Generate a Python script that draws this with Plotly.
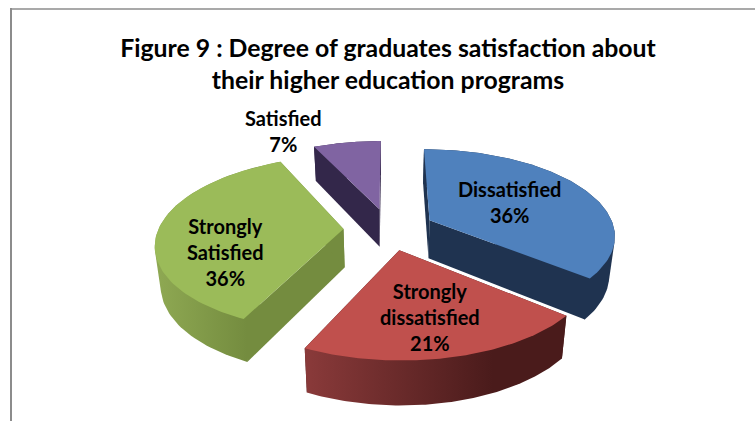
import numpy as np
import plotly.graph_objects as go

categories = ["Dissatisfied", "Strongly dissatisfied", "Strongly Satisfied", "Satisfied"]
values = [36, 21, 36, 7]
label_text = ["Dissatisfied<br>36%", "Strongly<br>dissatisfied<br>21%", "Strongly<br>Satisfied<br>36%", "Satisfied<br>7%"]
label_xy = [(509, 202), (430, 317), (225, 252), (283, 131)]
top_colors = ["#4F81BD", "#C0504D", "#9BBB59", "#8064A2"]
wall_colors = ["#1F3350", "#4A1C1C", "#748C3F", "#33274A"]
arc_gradients = [("#1F3350", "#1F3350"), ("#8A3A3A", "#4A1B1B"), ("#8FA953", "#748C3F"), ("#33274A", "#33274A")]
title_text = "Figure 9 : Degree of graduates satisfaction about<br>their higher education programs"
FONT = "Lato, Carlito, Calibri, sans-serif"

# pie projection
X0, Y0, A, B, K, EXPLODE, DEPTH, XSHRINK = 389, 229, 185, 85, 0.16, 0.246, 38.5, 0.975
PAINT_ORDER = [3, 0, 2, 1]


def project(u, v):
    w = 1 + K * v
    return X0 + A * u / w, Y0 - B * v / w, w


def lower(x, y, w):
    return X0 + (x - X0) * XSHRINK, y + DEPTH / w ** 0.7


def hull(points):
    pts = sorted(set(points))

    def half(seq):
        out = []
        for p in seq:
            while len(out) > 1 and (out[-1][0] - out[-2][0]) * (p[1] - out[-2][1]) \
                    - (out[-1][1] - out[-2][1]) * (p[0] - out[-2][0]) <= 0:
                out.pop()
            out.append(p)
        return out[:-1]

    return half(pts) + half(pts[::-1])


edges = np.cumsum([0] + values) / sum(values) * 2 * np.pi
fig = go.Figure()


def poly(xs, ys, color, gradient=None):
    kw = dict(fillcolor=color)
    if gradient:
        kw = dict(fillgradient=dict(type="horizontal",
                                    colorscale=[[0, gradient[0]], [0.72, gradient[1]], [1, gradient[1]]]))
    fig.add_trace(go.Scatter(x=xs, y=ys, mode="lines", fill="toself", line=dict(width=0),
                             hoverinfo="skip", showlegend=False, **kw))


for i in PAINT_ORDER:
    t0, t1 = edges[i], edges[i + 1]
    mid = (t0 + t1) / 2
    cu, cv = EXPLODE * np.sin(mid), EXPLODE * np.cos(mid)
    theta = np.linspace(t0, t1, 90)
    ax, ay, aw = project(cu + np.sin(theta), cv + np.cos(theta))
    bx, by = lower(ax, ay, aw)
    px, py, pw = project(cu, cv)
    qx, qy = lower(px, py, pw)
    # the two straight walls
    for e in (0, -1):
        poly([px, ax[e], bx[e], qx], [py, ay[e], by[e], qy], wall_colors[i])
    # the curved wall: outline of the upper and lower rims
    ring = hull([(float(a), float(b)) for a, b in zip(np.r_[ax, bx], np.r_[ay, by])])
    poly([p[0] for p in ring], [p[1] for p in ring], wall_colors[i], arc_gradients[i])
    # the top face
    poly(np.r_[px, ax], np.r_[py, ay], top_colors[i])

annotations = [
    dict(x=xy[0], y=xy[1], xref="x", yref="y", text=t, showarrow=False, align="center",
         font=dict(family=FONT, size=20, color="#000000", weight="bold"), xanchor="center", yanchor="middle")
    for t, xy in zip(label_text, label_xy)
]

shapes = [
    dict(type="line", xref="x", yref="y", x0=11, x1=11, y0=8, y1=421, line=dict(color="#8C8C8C", width=2)),
    dict(type="line", xref="x", yref="y", x0=10, x1=755, y0=9, y1=9, line=dict(color="#8C8C8C", width=1.5)),
]

fig.update_layout(
    width=755, height=421, margin=dict(l=0, r=0, t=0, b=0),
    paper_bgcolor="white", plot_bgcolor="white", showlegend=False,
    title=dict(text=title_text, x=388 / 755, xanchor="center", y=1 - 57 / 421, yanchor="middle",
               font=dict(family=FONT, size=24.8, color="#000000", weight="bold")),
    xaxis=dict(range=[0, 755], visible=False, fixedrange=True),
    yaxis=dict(range=[421, 0], visible=False, fixedrange=True),
    annotations=annotations, shapes=shapes,
)

fig.write_html("out.html", config=dict(displayModeBar=False),
               post_script="document.body.style.margin='0';document.body.style.overflow='hidden';")
